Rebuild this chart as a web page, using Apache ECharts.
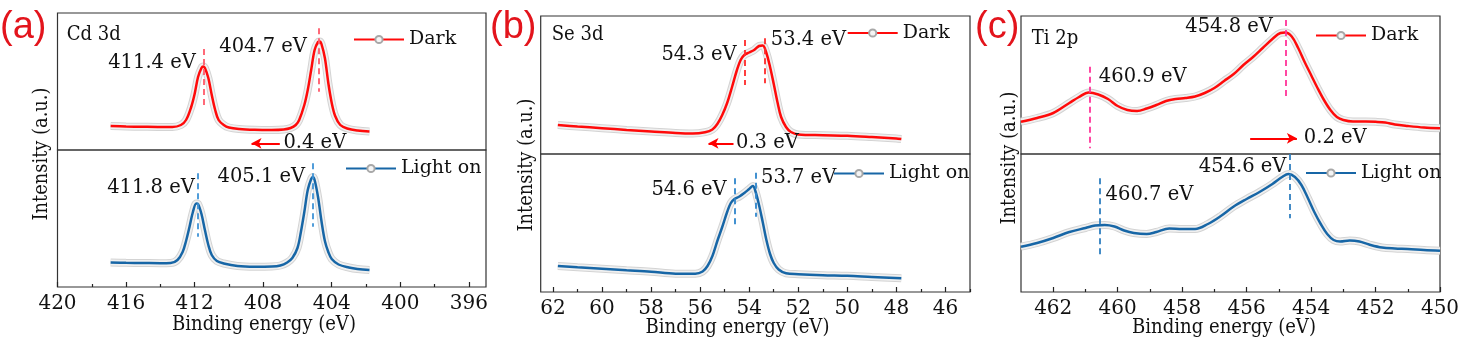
<!DOCTYPE html>
<html><head><meta charset="utf-8">
<script src="https://cdn.jsdelivr.net/npm/echarts@6/dist/echarts.min.js"></script>
<style>html,body{margin:0;padding:0;background:#fff}#c{width:1464px;height:347px}</style>
</head><body><div id="c"></div>
<script>
// ---- data: [binding energy (eV), intensity (a.u.)] ----
const darkA = [[416.9,24],[416,23.5],[415,23.2],[414,23],[413.3,23],[412.8,25],[412.5,30],[412.2,43],[412,56],[411.8,73],[411.6,82],[411.5,83.5],[411.4,82],[411.2,72],[411,55],[410.8,40],[410.6,30],[410.3,25],[410,22.5],[409.4,21],[408.5,20.2],[407.5,20],[406.8,20.5],[406.4,22],[406.1,25],[405.9,30],[405.6,45],[405.4,60],[405.2,80],[405,100],[404.8,108],[404.7,108.5],[404.6,106],[404.4,92],[404.2,67],[404,47],[403.8,34],[403.5,25],[403.1,21.5],[402.5,19.5],[401.8,18.5]];
const lightA = [[416.9,24.5],[416,24.2],[415,24],[414,23.8],[413.4,24],[413,27],[412.7,35],[412.5,46],[412.3,60],[412.1,75],[411.9,83.5],[411.8,83],[411.6,73],[411.4,57],[411.2,42],[411,32],[410.7,26],[410.3,23.5],[409.5,21],[408.5,20.3],[407.5,20.5],[407,21.5],[406.6,24.5],[406.3,29],[406,39],[405.8,55],[405.6,75],[405.4,97],[405.2,108],[405.1,110],[405,107],[404.8,90],[404.6,66],[404.4,46],[404.2,35],[404,28],[403.6,22.5],[403,19.5],[402.5,18],[401.8,17]];
const darkB = [[61.8,29],[61,27.5],[60,25.8],[59,24],[58,22.5],[57,21],[56.3,20.5],[55.8,21.8],[55.5,24.5],[55.3,30],[55.1,39],[54.9,51],[54.7,67],[54.5,84],[54.35,94],[54.2,99],[54,101.5],[53.8,104],[53.6,108],[53.45,108.5],[53.3,101],[53.15,87],[53,70],[52.85,52],[52.7,37],[52.5,27],[52.3,22],[52,19.5],[51,18.8],[50,18.3],[49,17],[48,15.5],[47.8,15]];
const lightB = [[61.8,26],[61,24.7],[60,23.3],[59,21.8],[58,20.3],[57,18.3],[56.2,18.3],[55.9,20.5],[55.7,26],[55.5,36],[55.3,51],[55.1,65],[54.9,80],[54.75,89],[54.6,93],[54.4,95.5],[54.2,99],[54,103],[53.85,106],[53.75,101],[53.6,87],[53.45,70],[53.3,52],[53.15,38],[53,29],[52.8,22.5],[52.5,18.7],[52,17.8],[51,16.8],[50,16.2],[49,15],[47.8,13.7]];
const darkC = [[463,32.3],[462.5,36],[462,41],[461.5,51],[461.2,57],[460.9,61.5],[460.6,59.5],[460.3,55],[460,48],[459.7,44],[459.4,43],[459.1,45.5],[458.8,49],[458.5,53],[458.2,55],[457.9,56],[457.6,57.5],[457.3,61],[457,66],[456.7,73],[456.4,80],[456.1,89],[455.8,97],[455.5,106],[455.2,115],[454.95,121],[454.8,121.5],[454.6,117.5],[454.4,106],[454.2,92],[454,79],[453.8,66],[453.6,54],[453.4,44],[453.2,37],[453,34],[452.7,32.5],[452.3,32.5],[452,32.2],[451.7,31.5],[451.4,29.5],[451,28],[450.5,26.5],[450,25.7]];
const lightC = [[463,45.3],[462.5,49],[462,54],[461.5,60],[461,64],[460.7,66.5],[460.4,67],[460.1,65.5],[459.8,61.5],[459.5,59],[459.1,58],[458.8,60],[458.4,63.5],[458,63],[457.6,63],[457.2,68],[456.8,76],[456.4,85.5],[456,93],[455.6,100],[455.2,108],[454.9,115],[454.7,118],[454.5,115],[454.3,107],[454.1,94],[453.9,80],[453.7,68],[453.5,58],[453.3,52],[453.1,50.5],[452.8,51.5],[452.5,50.5],[452.2,47.5],[451.8,44.5],[451.4,43.5],[451,43],[450.5,42],[450,41.3]];

const ticksA = [420,416,412,408,404,400,396];
const minorA = [418,414,410,406,402,398];
const ticksB = [62,60,58,56,54,52,50,48,46];
const minorB = [61,59,57,55,53,51,49,47,45];
const ticksC = [462,460,458,456,454,452,450];
const minorC = [461,459,457,455,453,451];

const seriesNames = ['Dark','Light on'];
const elementNames = ['Cd 3d','Se 3d','Ti 2p'];
const panelTags = ['(a)','(b)','(c)'];
const peakLabelsDarkA = ['411.4 eV','404.7 eV'];
const peakLabelsLightA = ['411.8 eV','405.1 eV'];
const peakLabelsDarkB = ['54.3 eV','53.4 eV'];
const peakLabelsLightB = ['54.6 eV','53.7 eV'];
const peakLabelsDarkC = ['460.9 eV','454.8 eV'];
const peakLabelsLightC = ['460.7 eV','454.6 eV'];
const shiftLabels = ['0.4 eV','0.3 eV','0.2 eV'];
const peaksDarkA = [411.45,404.75], peaksLightA = [411.83,405.12];
const peaksDarkB = [54.2,53.35], peaksLightB = [54.6,53.75];
const peaksDarkC = [460.86,454.8], peaksLightC = [460.55,454.65];

// ---- layout / styles ----
const FONT = 'DejaVu Serif';
const FS = 19.5;
const RED = '#ff0a0a', BLUE = '#1766a6';
const TXT = '#111';
const panels = [
  {left:57.5, width:428.5, topT:13, hT:137, topB:150, hB:137, min:395, max:420, ticks:ticksA, minor:minorA,
   dark:darkA, light:lightA, dashRed:'#ff5a6a', dashBlue:'#3f93d6',
   pd:peaksDarkA, pl:peaksLightA, ld:peakLabelsDarkA, ll:peakLabelsLightA,
   dashD:[[101,41],[121.7,58.3]], dashL:[[113.7,50.3],[123.7,60.3]],
   txtD:[[411.9,86.7,'left'],[405.42,103.3,'left']], txtL:[[411.96,98.7,'left'],[405.52,110.3,'left']],
   arrow:[407.03,408.68,6.7], shiftTxt:[406.85,6.7],
   legD:[353,30], legL:[345,159], yTitle:[42,154], xTitle:[264,325], elem:[66.7,35], tag:[0,28]},
  {left:540.7, width:429.3, topT:16, hT:138, topB:154, hB:138, min:45, max:62.5, ticks:ticksB, minor:minorB,
   dark:darkB, light:lightB, dashRed:'#ff2a2a', dashBlue:'#2f86cc',
   pd:peaksDarkB, pl:peaksLightB, ld:peakLabelsDarkB, ll:peakLabelsLightB,
   dashD:[[114,69],[115.7,70.7]], dashL:[[113.7,67],[119.3,75.3]],
   txtD:[[54.49,99,'left'],[53.14,114,'right']], txtL:[[54.9,102,'left'],[53.54,113.7,'right']],
   arrow:[54.64,55.66,10.7], shiftTxt:[54.56,10.7],
   legD:[846.7,23.5], legL:[833,164], yTitle:[527,165], xTitle:[737.5,328], elem:[551.7,35], tag:[490,28]},
  {left:1021, width:419, topT:16, hT:138, topB:154, hB:138, min:450, max:463, ticks:ticksC, minor:minorC,
   dark:darkC, light:lightC, dashRed:'#ff3399', dashBlue:'#2f7fc0',
   pd:peaksDarkC, pl:peaksLightC, ld:peakLabelsDarkC, ll:peakLabelsLightC,
   dashD:[[87.3,5.7],[134,54]], dashL:[[113.7,37],[138,73.7]],
   txtD:[[460.6,77.3,'right'],[455.17,127.3,'left']], txtL:[[460.39,97,'right'],[454.75,125.3,'left']],
   arrow:[455.89,454.44,15.7], shiftTxt:[454.24,15.7],
   legD:[1315,26], legL:[1305,163.5], yTitle:[1010,158], xTitle:[1224,328], elem:[1031.7,38.3], tag:[975,28]}
];

const grid = [], xAxis = [], yAxis = [], series = [], legend = [], graphic = [];
const minorAxes = [];

function textPoint(t, label){
  return {coord:[t[0],t[1]], symbol:'rect', symbolSize:1, itemStyle:{color:'rgba(0,0,0,0)'},
    label:{show:true, position:t[2], distance:0, formatter:label, fontFamily:FONT, fontSize:FS, color:TXT}};
}

panels.forEach((p, i) => {
  const gT = 2*i, gB = 2*i+1;
  grid.push({left:p.left, top:p.topT, width:p.width, height:p.hT, show:true, borderColor:'#333', borderWidth:1.2, backgroundColor:'rgba(0,0,0,0)'});
  grid.push({left:p.left, top:p.topB, width:p.width, height:p.hB, show:true, borderColor:'#333', borderWidth:1.2, backgroundColor:'rgba(0,0,0,0)'});
  xAxis[gT] = {gridIndex:gT, type:'value', min:p.min, max:p.max, inverse:true, show:false};
  xAxis[gB] = {gridIndex:gB, type:'value', min:p.min, max:p.max, inverse:true, position:'bottom',
    axisLine:{show:false}, splitLine:{show:false},
    axisTick:{show:true, inside:true, length:5, customValues:p.ticks, lineStyle:{color:'#222', width:1.2}},
    axisLabel:{show:true, customValues:p.ticks, margin:7, fontFamily:FONT, fontSize:20, color:TXT, showMinLabel:true, showMaxLabel:true}};
  minorAxes.push({gridIndex:gB, type:'value', min:p.min, max:p.max, inverse:true, position:'bottom',
    axisLine:{show:false}, splitLine:{show:false}, axisLabel:{show:false},
    axisTick:{show:true, inside:true, length:3, customValues:p.minor, lineStyle:{color:'#222', width:1.2}}});
  yAxis[gT] = {gridIndex:gT, type:'value', min:0, max:p.hT, show:false};
  yAxis[gB] = {gridIndex:gB, type:'value', min:0, max:p.hB, show:false};

  [[gT, p.dark, RED, 0], [gB, p.light, BLUE, 1]].forEach(([g, data, col, k]) => {
    series.push({type:'line', name:'halo'+g+'a', xAxisIndex:g, yAxisIndex:g, data, smooth:0.35,
      symbol:'none', silent:true, z:1, lineStyle:{width:8, color:'#d3d3d3'}});
    series.push({type:'line', name:'halo'+g+'b', xAxisIndex:g, yAxisIndex:g, data, smooth:0.35,
      symbol:'none', silent:true, z:2, lineStyle:{width:6, color:'#f0f0f0'}});
    const peaks = k===0 ? p.pd : p.pl;
    const dashY = k===0 ? p.dashD : p.dashL;
    const txt = k===0 ? p.txtD : p.txtL;
    const labels = k===0 ? p.ld : p.ll;
    const dashCol = k===0 ? p.dashRed : p.dashBlue;
    const mlData = peaks.map((e, j) => [
      {coord:[e, dashY[j][0]], symbol:'none', lineStyle:{type:[6,4], color:dashCol, width:1.8}},
      {coord:[e, dashY[j][1]], symbol:'none'}]);
    const mpData = txt.map((t, j) => textPoint(t, labels[j]));
    if (k===0) {
      mlData.push([
        {coord:[p.arrow[0], p.arrow[2]], symbol:'none', lineStyle:{type:'solid', color:'#ff0000', width:2}},
        {coord:[p.arrow[1], p.arrow[2]], symbol:'arrow', symbolSize:[8,10]}]);
      mpData.push(textPoint([p.shiftTxt[0], p.shiftTxt[1], 'right'], shiftLabels[i]));
    }
    series.push({type:'line', name:seriesNames[k], xAxisIndex:g, yAxisIndex:g, data, smooth:0.35,
      symbol:'circle', symbolSize:8, showSymbol:false, z:3,
      itemStyle:{color:'#f4f4f4', borderColor:'#a8a8a8', borderWidth:1},
      lineStyle:{width:2.5, color:col},
      markLine:{silent:true, symbol:['none','none'], label:{show:false}, data:mlData, animation:false},
      markPoint:{silent:true, data:mpData, animation:false}});
  });

  legend.push({data:['Dark'], left:p.legD[0], top:p.legD[1], orient:'horizontal', padding:0, itemGap:0,
    itemWidth:50, itemHeight:9, selectedMode:false, textStyle:{fontFamily:FONT, fontSize:19, color:TXT}});
  legend.push({data:['Light on'], left:p.legL[0], top:p.legL[1], orient:'horizontal', padding:0, itemGap:0,
    itemWidth:50, itemHeight:9, selectedMode:false, textStyle:{fontFamily:FONT, fontSize:19, color:TXT}});

  graphic.push({type:'text', x:p.yTitle[0], y:p.yTitle[1], rotation:Math.PI/2, scaleX:0.85,
    style:{text:'Intensity (a.u.)', font:'21px '+FONT, fill:TXT, align:'center', verticalAlign:'middle'}});
  graphic.push({type:'text', x:p.xTitle[0], y:p.xTitle[1], scaleX:0.86,
    style:{text:'Binding energy (eV)', font:'21px '+FONT, fill:TXT, align:'center', verticalAlign:'middle'}});
  graphic.push({type:'text', x:p.elem[0], y:p.elem[1], scaleX:0.86,
    style:{text:elementNames[i], font:'21px '+FONT, fill:TXT, align:'left', verticalAlign:'middle'}});
  graphic.push({type:'text', x:p.tag[0], y:p.tag[1],
    style:{text:panelTags[i], font:'38px Liberation Sans', fill:'#e3141c', align:'left', verticalAlign:'middle'}});
});

const chart = echarts.init(document.getElementById('c'), null, {renderer:'canvas'});
chart.setOption({
  animation:false,
  backgroundColor:'#ffffff',
  grid, xAxis: xAxis.concat(minorAxes), yAxis, series, legend, graphic
});
</script>
</body></html>
